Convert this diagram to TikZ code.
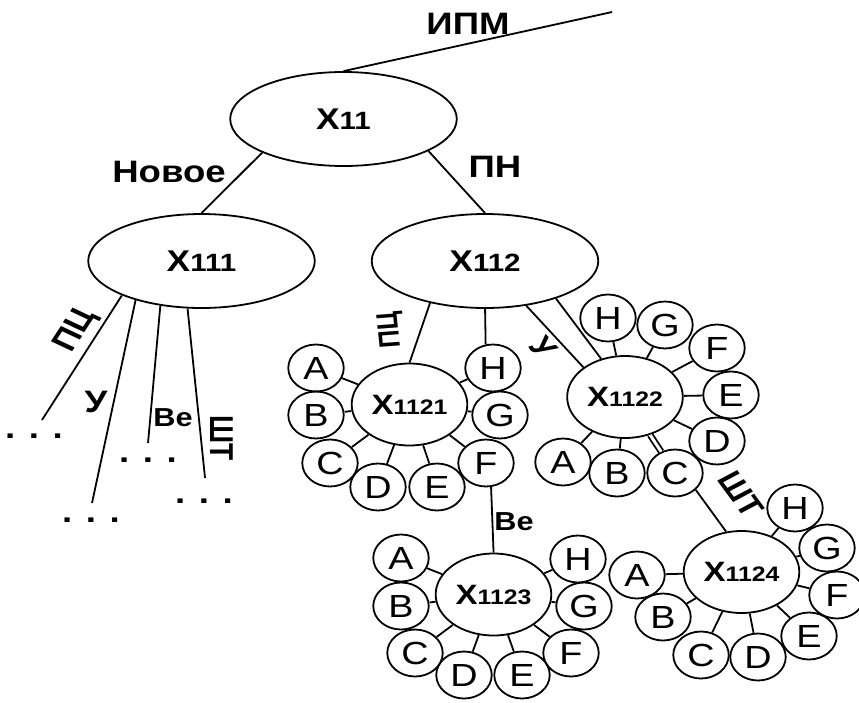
\documentclass[tikz,border=0pt]{standalone}
\usepackage{fontspec}
\setmainfont{Liberation Sans}
\usetikzlibrary{shapes.geometric}

\newcommand{\xbig}[1]{X{\fontsize{25}{25}\selectfont #1}}
\newcommand{\xsmall}[1]{X{\fontsize{21}{21}\selectfont #1}}

\begin{document}
\begin{tikzpicture}[x=0.84746pt,y=-1pt,xscale=1.18,line width=1.8pt,
  every node/.append style={transform shape},
  bigell/.style={draw,ellipse,inner sep=0pt,minimum width=192pt,minimum height=94pt,font=\bfseries\fontsize{30}{30}\selectfont},
  smallell/.style={draw,ellipse,inner sep=0pt,minimum width=98pt,minimum height=82pt,font=\bfseries\fontsize{28}{28}\selectfont},
  letter/.style={draw,circle,inner sep=0pt,minimum size=47pt,font=\fontsize{32}{32}\selectfont},
  lbl/.style={inner sep=0pt,font=\bfseries\fontsize{#1}{#1}\selectfont},
  lbl/.default=31,
  dots/.style={inner sep=0pt,anchor=base,font=\bfseries\fontsize{31}{31}\selectfont}]
\useasboundingbox (0,0) rectangle (859,702);

\node[bigell] (X11) at (343.5,119) {\xbig{11}};
\node[bigell] (X111) at (201.5,261) {\xbig{111}};
\node[bigell] (X112) at (485,261) {\xbig{112}};

\node[smallell] (X1121) at (409.5,404.5) {\xsmall{1121}};
\node[smallell] (X1122) at (625,397) {\xsmall{1122}};
\node[smallell] (X1123) at (493.5,594.5) {\xsmall{1123}};
\node[smallell] (X1124) at (741.5,572) {\xsmall{1124}};

\node[letter] (A1) at (316,368) {A};
\node[letter] (B1) at (316,415) {B};
\node[letter] (C1) at (330,463) {C};
\node[letter] (D1) at (378,487) {D};
\node[letter] (E1) at (437,487) {E};
\node[letter] (F1) at (486,463) {F};
\node[letter] (G1) at (500,415) {G};
\node[letter] (H1) at (493,368) {H};

\node[letter] (A2) at (563,462) {A};
\node[letter] (B2) at (617,473) {B};
\node[letter] (C2) at (675,473) {C};
\node[letter] (D2) at (717,441) {D};
\node[letter] (E2) at (731,395) {E};
\node[letter] (F2) at (717,348) {F};
\node[letter] (G2) at (665,325) {G};
\node[letter] (H2) at (608,318) {H};

\node[letter] (A3) at (401,558) {A};
\node[letter] (B3) at (401,606) {B};
\node[letter] (C3) at (415,653) {C};
\node[letter] (D3) at (464,675) {D};
\node[letter] (E3) at (522,675) {E};
\node[letter] (F3) at (571,653) {F};
\node[letter] (G3) at (584,606) {G};
\node[letter] (H3) at (578,559) {H};

\node[letter] (A4) at (637,575) {A};
\node[letter] (B4) at (663,617) {B};
\node[letter] (C4) at (701,655) {C};
\node[letter] (D4) at (758,657) {D};
\node[letter] (E4) at (809,636) {E};
\node[letter] (F4) at (837,595) {F};
\node[letter] (G4) at (827,548) {G};
\node[letter] (H4) at (795,508) {H};

\coordinate (top) at (612,12);
\coordinate (end1) at (42,420);
\coordinate (end2) at (92,503);
\coordinate (end3) at (148,443);
\coordinate (end4) at (205,478);

\draw (X11.north) -- (top);
\draw (X11.206) -- (X111.north);
\draw (X11.336) -- (X112.north);

\draw (X111.207) -- (end1);
\draw (X111.215) -- (end2);
\draw (X111.232) -- (end3);
\draw (X111.256) -- (end4);

\draw (X112.222) -- (X1121.north);
\draw (X112.south) -- (H1.105);
\draw (X112.308) -- (X1122.140);
\draw (X112.328) -- (X1122.118);
\draw (F1.280) -- (X1123.north);
\draw[double,double distance=3pt] (C2) -- (X1122);
\draw (C2.316) -- (X1124.108);

\draw (A1) -- (X1121);
\draw (B1) -- (X1121);
\draw (C1) -- (X1121);
\draw (D1) -- (X1121);
\draw (E1) -- (X1121);
\draw (F1) -- (X1121);
\draw (G1) -- (X1121);
\draw (H1) -- (X1121);

\draw (A2) -- (X1122);
\draw (B2) -- (X1122);
\draw (D2) -- (X1122);
\draw (E2) -- (X1122);
\draw (F2) -- (X1122);
\draw (G2) -- (X1122);
\draw (H2) -- (X1122);

\draw (A3) -- (X1123);
\draw (B3) -- (X1123);
\draw (C3) -- (X1123);
\draw (D3) -- (X1123);
\draw (E3) -- (X1123);
\draw (F3) -- (X1123);
\draw (G3) -- (X1123);
\draw (H3) -- (X1123);

\draw (A4) -- (X1124);
\draw (B4) -- (X1124);
\draw (C4) -- (X1124);
\draw (D4) -- (X1124);
\draw (E4) -- (X1124);
\draw (F4) -- (X1124);
\draw (G4) -- (X1124);
\draw (H4) -- (X1124);

\node[lbl] (ipm) at (468,24) {ИПМ};
\node[lbl] (novoe) at (169,172) {Новое};
\node[lbl] (pn) at (495,167) {ПН};
\node[lbl=30,rotate=61] (pc1) at (76,331) {ПЦ};
\node[lbl] (u1) at (96,402) {У};
\node[lbl=26] (be1) at (173,418) {Be};
\node[lbl=28,rotate=-90] (sht1) at (222,438) {ШТ};
\node[lbl=25,rotate=95] (pc2) at (391,330) {ПЦ};
\node[lbl=29,rotate=-52] (u2) at (543,348) {У};
\node[lbl=26] (be2) at (514,522) {Be};
\node[lbl=29,rotate=-58] (sht2) at (741,494) {ШТ};

\node[dots] (dots1) at (34,438) {. . .};
\node[dots] (dots2) at (91,522) {. . .};
\node[dots] (dots3) at (148,462) {. . .};
\node[dots] (dots4) at (204,503) {. . .};
\end{tikzpicture}
\end{document}
